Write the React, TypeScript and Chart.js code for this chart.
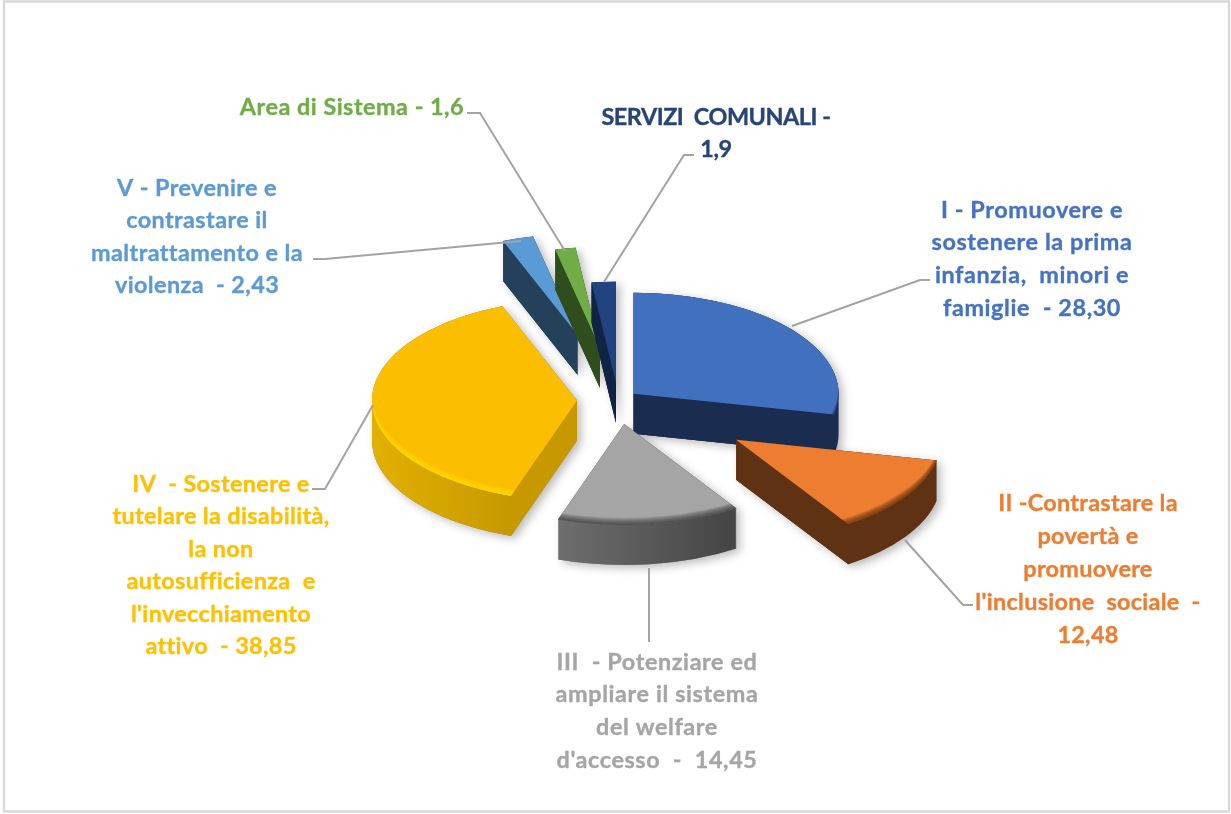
import React, { useEffect, useRef } from "react";
import { Chart, registerables } from "chart.js";

Chart.register(...registerables);

const categories = [
  "I - Promuovere e sostenere la prima infanzia, minori e famiglie",
  "II -Contrastare la povertà e promuovere l'inclusione sociale",
  "III - Potenziare ed ampliare il sistema del welfare d'accesso",
  "IV - Sostenere e tutelare la disabilità, la non autosufficienza e l'invecchiamento attivo",
  "V - Prevenire e contrastare il maltrattamento e la violenza",
  "Area di Sistema",
  "SERVIZI COMUNALI",
];
const values = [28.3, 12.48, 14.45, 38.85, 2.43, 1.6, 1.9];
const topColors = ["#4170bf", "#ed7d31", "#a5a5a5", "#fcbe00", "#5b9bd5", "#70ad47", "#214480"];
const textColors = ["#4472c4", "#ed7d31", "#a5a5a5", "#ffc000", "#5b9bd5", "#70ad47", "#264478"];
const wallLeft = ["#1b2d52", "#5f3213", "#6e6e6e", "#e3b000", "#24405a", "#2f4d1d", "#0f2345"];
const wallRight = ["#1b2d52", "#5f3213", "#444444", "#b88e00", "#24405a", "#2f4d1d", "#0f2345"];
const faceColors = ["#1a2c50", "#5f3213", "#555555", "#c79800", "#24405a", "#2f4d1d", "#0f2345"];
const bevelColors = [
  "rgba(20,40,90,0.14)",
  "rgba(90,45,10,0.17)",
  "rgba(50,50,50,0.15)",
  "rgba(255,222,0,0.2)",
  "rgba(0,0,0,0)",
  "rgba(0,0,0,0)",
  "rgba(0,0,0,0)",
];
const explosions = [20, 143, 49, 41, 138, 107, 35];
const paintOrder = [4, 5, 6, 0, 3, 2, 1];

const labelLines = [
  ["I - Promuovere e", "sostenere la prima", "infanzia,  minori e", "famiglie  - 28,30"],
  ["II -Contrastare la", "povertà e", "promuovere", "l'inclusione  sociale  -", "12,48"],
  ["III  - Potenziare ed", "ampliare il sistema", "del welfare", "d'accesso  -  14,45"],
  ["IV  - Sostenere e", "tutelare la disabilità,", "la non", "autosufficienza  e", "l'invecchiamento", "attivo  - 38,85"],
  ["V - Prevenire e", "contrastare il", "maltrattamento e la", "violenza  - 2,43"],
  ["Area di Sistema - 1,6"],
  ["SERVIZI  COMUNALI -", "1,9"],
];
const labelCenters = [1032, 1088, 657, 221, 197, 352, 716];
const labelTops = [210, 503, 662, 484, 188, 107, 117];
const labelSteps = [32.7, 33, 32.7, 32.5, 32.5, 0, 32];
const labelSpacing = [0.6, 0.3, 0.6, 0.35, 0.4, 0.5, -0.45];
const leaders = [
  [[792, 326], [920, 280], [930, 280]],
  [[905, 540], [963, 605], [973, 605]],
  [[649, 568], [649, 642]],
  [[373, 405], [325, 489], [312, 489]],
  [[521, 241], [325, 259], [313, 259]],
  [[565, 251], [480, 113], [467, 113]],
  [[604, 282], [684, 155], [694, 155]],
];

const SQUASH = 0.4927;
const DEPTH = 40;

const pie3d = {
  id: "pie3d",
  beforeDraw(chart: any) {
    const { ctx } = chart;
    ctx.save();
    ctx.fillStyle = "#ffffff";
    ctx.fillRect(0, 0, chart.width, chart.height);
    ctx.strokeStyle = "#d9d9d9";
    ctx.lineWidth = 2.5;
    ctx.strokeRect(4, 1.5, 1225, 810);
    ctx.restore();
  },
  beforeDatasetsDraw(chart: any) {
    const { ctx } = chart;
    const arcs = chart.getDatasetMeta(0).data;
    const geo = arcs.map((el: any, i: number) => {
      const mid = (el.startAngle + el.endAngle) / 2;
      const ex = Math.cos(mid) * explosions[i];
      const ey = Math.sin(mid) * explosions[i];
      return {
        el,
        ex,
        ey,
        ax: el.x + ex,
        ay: el.y + ey * SQUASH,
        r: el.outerRadius,
        a0: el.startAngle,
        a1: el.endAngle,
      };
    });
    const sector = (g: any, dy: number) => {
      ctx.moveTo(g.ax, g.ay + dy);
      ctx.ellipse(g.ax, g.ay + dy, g.r, g.r * SQUASH, 0, g.a0, g.a1);
      ctx.closePath();
    };
    const solid = (g: any) => {
      ctx.beginPath();
      for (let d = 0; d <= DEPTH; d += 1) sector(g, d);
    };
    // soft shadows
    ctx.save();
    ctx.shadowColor = "rgba(0,0,0,0.28)";
    ctx.shadowBlur = 10;
    ctx.shadowOffsetX = 4;
    ctx.shadowOffsetY = 3;
    ctx.fillStyle = "#888888";
    geo.forEach((g: any) => {
      solid(g);
      ctx.fill();
    });
    ctx.restore();
    paintOrder.forEach((i) => {
      const g = geo[i];
      // side walls
      const xs = [g.ax];
      for (let t = 0; t <= 24; t += 1) {
        xs.push(g.ax + g.r * Math.cos(g.a0 + ((g.a1 - g.a0) * t) / 24));
      }
      const grad = ctx.createLinearGradient(Math.min(...xs), 0, Math.max(...xs), 0);
      grad.addColorStop(0, wallLeft[i]);
      grad.addColorStop(1, wallRight[i]);
      ctx.fillStyle = grad;
      solid(g);
      ctx.fill();
      // radial faces that look towards the viewer
      ctx.fillStyle = faceColors[i];
      const face = (a: number) => {
        const px = g.ax + g.r * Math.cos(a);
        const py = g.ay + g.r * SQUASH * Math.sin(a);
        ctx.beginPath();
        ctx.moveTo(g.ax, g.ay);
        ctx.lineTo(px, py);
        ctx.lineTo(px, py + DEPTH);
        ctx.lineTo(g.ax, g.ay + DEPTH);
        ctx.closePath();
        ctx.fill();
      };
      if (Math.cos(g.a0) < 0) face(g.a0);
      if (Math.cos(g.a1) > 0) face(g.a1);
      // top face, drawn by the library's arc element
      ctx.save();
      ctx.translate(g.el.x, g.el.y);
      ctx.scale(1, SQUASH);
      ctx.translate(-g.el.x, -g.el.y);
      ctx.translate(g.ex, g.ey);
      g.el.draw(ctx);
      ctx.restore();
      // rim bevel
      ctx.save();
      ctx.beginPath();
      sector(g, 0);
      ctx.clip();
      ctx.fillStyle = bevelColors[i];
      [1, 2, 3, 4, 5, 6, 7].forEach((b) => {
        ctx.beginPath();
        ctx.rect(0, 0, chart.width, chart.height);
        ctx.ellipse(g.ax, g.ay - b, g.r, g.r * SQUASH, 0, 0, Math.PI * 2);
        ctx.fill("evenodd");
      });
      ctx.restore();
    });
    return false;
  },
  afterDraw(chart: any) {
    const { ctx } = chart;
    ctx.save();
    ctx.strokeStyle = "#a3a3a3";
    ctx.lineWidth = 2;
    leaders.forEach((pts) => {
      ctx.beginPath();
      pts.forEach((p, k) => (k ? ctx.lineTo(p[0], p[1]) : ctx.moveTo(p[0], p[1])));
      ctx.stroke();
    });
    ctx.font = "bold 23.4px Lato";
    ctx.textAlign = "center";
    ctx.textBaseline = "middle";
    ctx.lineWidth = 0.35;
    labelLines.forEach((lines, i) => {
      (ctx as any).letterSpacing = `${labelSpacing[i]}px`;
      ctx.fillStyle = textColors[i];
      ctx.strokeStyle = textColors[i];
      lines.forEach((line, k) => {
        const y = labelTops[i] + k * labelSteps[i];
        ctx.fillText(line, labelCenters[i], y);
        ctx.strokeText(line, labelCenters[i], y);
      });
    });
    ctx.restore();
  },
};

export default function App() {
  const ref = useRef<HTMLCanvasElement>(null);
  useEffect(() => {
    const chart = new Chart(ref.current as HTMLCanvasElement, {
      type: "pie",
      data: {
        labels: categories,
        datasets: [{ data: values, backgroundColor: topColors, borderWidth: 0 }],
      },
      options: {
        responsive: false,
        animation: false,
        radius: 205,
        layout: { padding: { left: 5, bottom: 14 } },
        plugins: { legend: { display: false }, tooltip: { enabled: false } },
      } as any,
      plugins: [pie3d as any],
    });
    return () => chart.destroy();
  }, []);
  return (
    <div style={{ position: "absolute", left: 0, top: 0 }}>
      <canvas ref={ref} width={1231} height={814} style={{ display: "block", filter: "blur(0.5px)" }} />
    </div>
  );
}
